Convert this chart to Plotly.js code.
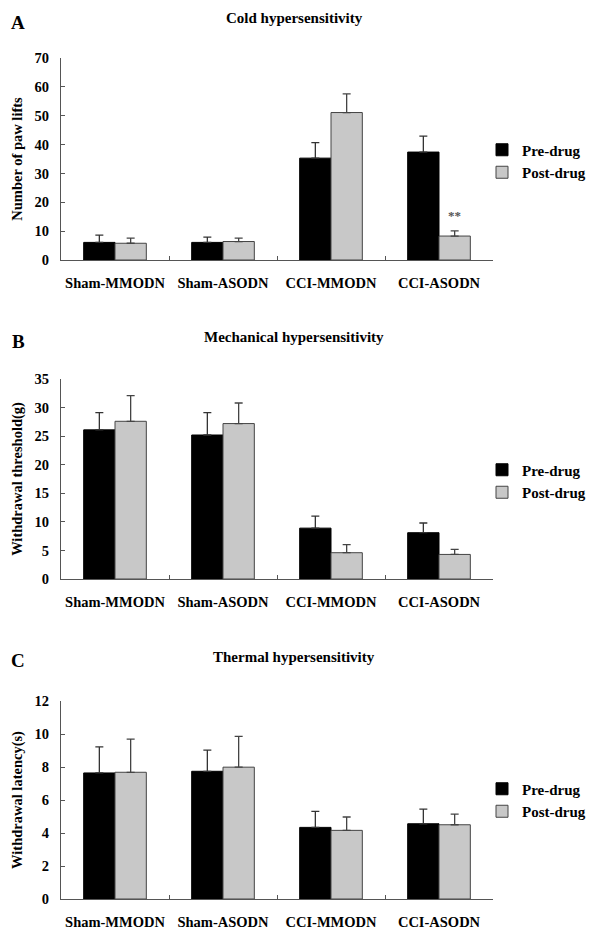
<!DOCTYPE html>
<html>
<head>
<meta charset="utf-8">
<script src="https://cdn.plot.ly/plotly-3.0.1.min.js"></script>
<style>
  html, body { margin: 0; padding: 0; background: #fff; }
  #chart { width: 600px; height: 938px; }
</style>
</head>
<body>
<div id="chart"></div>
<script>
// ---- Data ----
const categories = ['Sham-MMODN', 'Sham-ASODN', 'CCI-MMODN', 'CCI-ASODN'];
const seriesNames = ['Pre-drug', 'Post-drug'];

// A: Cold hypersensitivity (number of paw lifts)
const coldPre = [6.1, 6.1, 35.3, 37.4];
const coldPreErr = [2.5, 1.8, 5.4, 5.5];
const coldPost = [5.8, 6.4, 51.1, 8.3];
const coldPostErr = [1.8, 1.2, 6.5, 1.8];

// B: Mechanical hypersensitivity (withdrawal threshold, g)
const mechPre = [26.1, 25.2, 8.9, 8.1];
const mechPreErr = [3.0, 3.9, 2.1, 1.7];
const mechPost = [27.6, 27.2, 4.6, 4.3];
const mechPostErr = [4.5, 3.6, 1.4, 0.9];

// C: Thermal hypersensitivity (withdrawal latency, s)
const thermPre = [7.64, 7.74, 4.34, 4.56];
const thermPreErr = [1.58, 1.28, 0.97, 0.89];
const thermPost = [7.68, 7.99, 4.16, 4.50];
const thermPostErr = [2.01, 1.86, 0.81, 0.65];

const panelTitles = ['Cold hypersensitivity', 'Mechanical hypersensitivity', 'Thermal hypersensitivity'];
const panelLetters = ['A', 'B', 'C'];
const yTitles = ['Number of paw lifts', 'Withdrawal threshold(g)', 'Withdrawal latency(s)'];
const yRanges = [[0, 70], [0, 35], [0, 12]];
const yDticks = [10, 5, 2];
const significance = {panel: 0, category: 'CCI-ASODN', text: '**'};

// ---- Styling ----
const FONT = 'Liberation Serif, Times New Roman, serif';
const W = 600, H = 938;
const xDomain = [61 / W, 493 / W];
const yDomains = [
  [1 - 260 / H, 1 - 58 / H],
  [1 - 579 / H, 1 - 379 / H],
  [1 - 899 / H, 1 - 701 / H]
];
const titleY = [18, 337, 657];
const letterY = [22, 341, 660];
const legendY = [161, 481, 800];

const preColor = '#000000';
const postColor = '#c8c8c8';

const panels = [
  {pre: coldPre, preErr: coldPreErr, post: coldPost, postErr: coldPostErr},
  {pre: mechPre, preErr: mechPreErr, post: mechPost, postErr: mechPostErr},
  {pre: thermPre, preErr: thermPreErr, post: thermPost, postErr: thermPostErr}
];

const traces = [];
const layout = {
  width: W, height: H,
  margin: {l: 0, r: 0, t: 0, b: 0},
  paper_bgcolor: '#ffffff',
  plot_bgcolor: '#ffffff',
  font: {family: FONT, size: 14.5, color: '#000', weight: 'bold'},
  barmode: 'group',
  bargap: 0.42,
  bargroupgap: 0,
  showlegend: true,
  annotations: [],
  shapes: []
};

panels.forEach((p, i) => {
  const sfx = i === 0 ? '' : String(i + 1);
  const xa = 'x' + sfx, ya = 'y' + sfx;
  const legName = 'legend' + sfx;
  const zeros = p.pre.map(() => 0);
  traces.push({
    type: 'bar', name: seriesNames[0], x: categories, y: p.pre,
    xaxis: xa, yaxis: ya, legend: legName,
    marker: {color: preColor, line: {color: '#000', width: 1}},
    error_y: {type: 'data', symmetric: false, array: p.preErr, arrayminus: zeros,
              color: '#333', thickness: 1.3, width: 4}
  });
  traces.push({
    type: 'bar', name: seriesNames[1], x: categories, y: p.post,
    xaxis: xa, yaxis: ya, legend: legName,
    marker: {color: postColor, line: {color: '#444', width: 1}},
    error_y: {type: 'data', symmetric: false, array: p.postErr, arrayminus: zeros,
              color: '#444', thickness: 1.3, width: 4}
  });

  layout['xaxis' + sfx] = {
    domain: xDomain, anchor: ya, type: 'category',
    showline: true, linecolor: '#555', linewidth: 1,
    ticks: 'inside', tickson: 'boundaries', ticklen: 4, tickcolor: '#555',
    showgrid: false, zeroline: false, fixedrange: true,
    tickangle: 0,
    tickfont: {family: FONT, size: 14.5, weight: 'bold', color: '#000'},
    ticklabelstandoff: 10
  };
  layout['yaxis' + sfx] = {
    domain: yDomains[i], anchor: xa, range: yRanges[i], dtick: yDticks[i], tick0: 0,
    showline: true, linecolor: '#555', linewidth: 1,
    ticks: 'inside', ticklen: 4, tickcolor: '#555',
    showgrid: false, zeroline: false, fixedrange: true,
    tickfont: {family: FONT, size: 14.5, weight: 'bold', color: '#000'},
    ticklabelstandoff: 8,
    title: {text: yTitles[i], font: {family: FONT, size: 14.5, weight: 'bold', color: '#000'}, standoff: 8}
  };
  layout[legName] = {
    x: 482 / W, xanchor: 'left',
    y: 1 - legendY[i] / H, yanchor: 'middle',
    bgcolor: 'rgba(0,0,0,0)', borderwidth: 0,
    font: {family: FONT, size: 15, weight: 'bold', color: '#000'},
    tracegroupgap: 0, traceorder: 'normal'
  };
  layout.annotations.push({
    xref: 'paper', yref: 'paper', x: 294 / W, y: 1 - titleY[i] / H,
    xanchor: 'center', yanchor: 'middle', showarrow: false,
    text: panelTitles[i], font: {family: FONT, size: 15, weight: 'bold', color: '#000'}
  });
  layout.annotations.push({
    xref: 'paper', yref: 'paper', x: 18 / W, y: 1 - letterY[i] / H,
    xanchor: 'center', yanchor: 'middle', showarrow: false,
    text: panelLetters[i], font: {family: FONT, size: 19, weight: 'bold', color: '#000'}
  });
});

// significance marker above the post-drug bar of CCI-ASODN in panel A
(function () {
  const idx = categories.indexOf(significance.category);
  const p = panels[significance.panel];
  layout.annotations.push({
    xref: 'x', yref: 'y', x: significance.category, y: p.post[idx] + p.postErr[idx],
    xshift: 15, yshift: 6, xanchor: 'center', yanchor: 'bottom', showarrow: false,
    text: significance.text, font: {family: FONT, size: 13, weight: 'bold', color: '#555'}
  });
})();

Plotly.newPlot('chart', traces, layout, {staticPlot: true, displayModeBar: false});
</script>
</body>
</html>
